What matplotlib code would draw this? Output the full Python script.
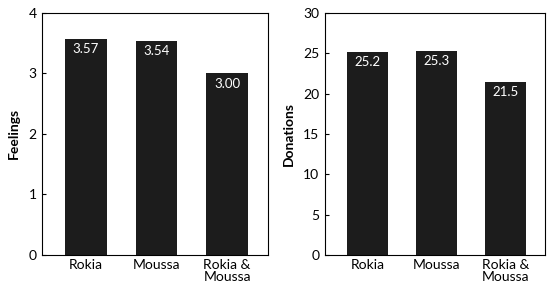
import matplotlib.pyplot as plt
import numpy as np

categories = ["Rokia", "Moussa", "Rokia &\nMoussa"]
feelings = [3.57, 3.54, 3.00]
feelings_labels = ["3.57", "3.54", "3.00"]
donations = [25.2, 25.3, 21.5]
donations_labels = ["25.2", "25.3", "21.5"]

plt.rcParams['font.family'] = ['Lato', 'DejaVu Sans']

fig = plt.figure(figsize=(5.47, 2.88), dpi=100)
ax1 = fig.add_axes([0.077, 0.115, 0.413, 0.84])
ax2 = fig.add_axes([0.594, 0.115, 0.403, 0.84])


def draw(ax, vals, labels, ylim, ticks, ylabel, off):
    x = np.arange(len(vals))
    ax.bar(x, vals, width=0.59, color="#1c1c1c")
    for xi, v, lab in zip(x, vals, labels):
        ax.text(xi, v - off, lab, color="white", ha="center", va="center", fontsize=9.5)
    ax.set_xlim(-0.62, 2.58)
    ax.set_ylim(*ylim)
    ax.set_yticks(ticks)
    ax.set_xticks(x)
    ax.set_xticklabels(categories, fontsize=10, linespacing=0.95)
    ax.tick_params(axis="y", direction="in", length=3, labelsize=10, pad=4)
    ax.tick_params(axis="x", length=0, pad=3)
    ax.set_ylabel(ylabel, fontsize=10, fontweight="bold", labelpad=6)
    for s in ax.spines.values():
        s.set_linewidth(0.8)


draw(ax1, feelings, feelings_labels, (0, 4), [0, 1, 2, 3, 4], "Feelings", 0.17)
draw(ax2, donations, donations_labels, (0, 30), [0, 5, 10, 15, 20, 25, 30], "Donations", 1.3)

fig.savefig("out.png", dpi=100)
